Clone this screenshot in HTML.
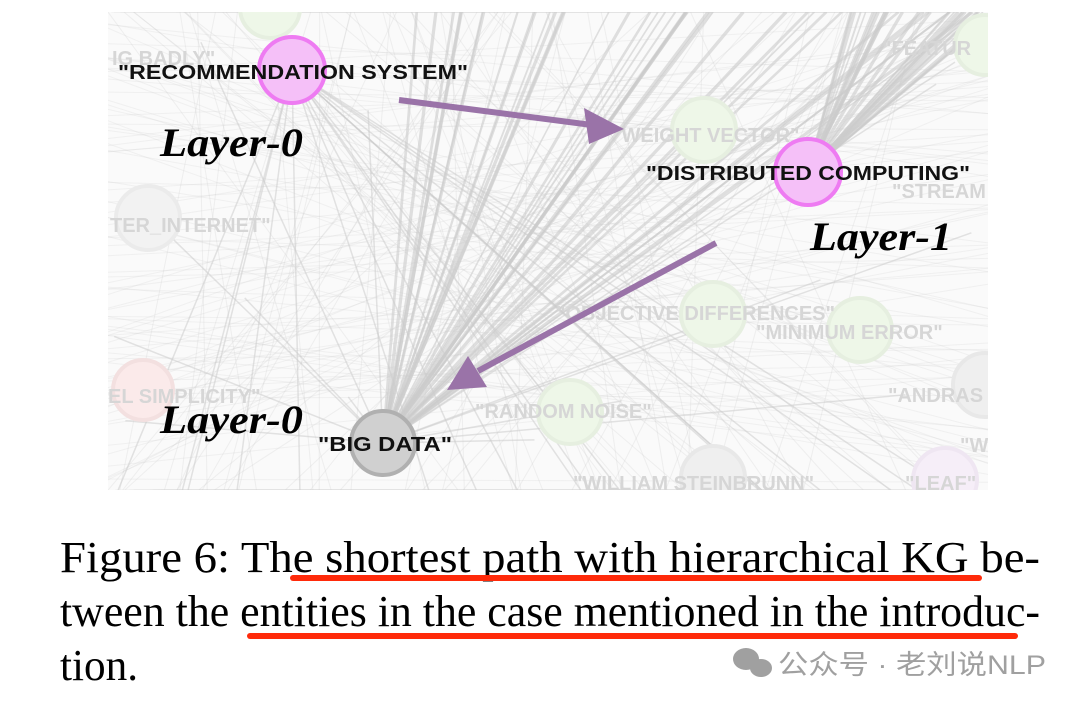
<!DOCTYPE html>
<html><head><meta charset="utf-8"><style>
html,body{margin:0;padding:0;background:#fff;width:1080px;height:709px;overflow:hidden}
</style></head><body>
<svg id="s" width="1080" height="709" viewBox="0 0 1080 709" xmlns="http://www.w3.org/2000/svg">
<defs><clipPath id="c"><rect x="108" y="12" width="880" height="478"/></clipPath></defs>
<rect x="108" y="12" width="880" height="478" fill="#fafafa"/>
<g id="lines" clip-path="url(#c)" stroke="#cccccc" fill="none"></g>
<g clip-path="url(#c)" font-family="Liberation Sans, sans-serif" font-weight="bold" font-size="20">
<circle cx="270" cy="8" r="30" fill="#eef7e8" stroke="#e6efe0" stroke-width="4"/>
<circle cx="148" cy="218" r="32" fill="#f2f2f2" stroke="#ebebeb" stroke-width="4"/>
<circle cx="704" cy="130" r="32" fill="#eef7e8" stroke="#e6efe0" stroke-width="4"/>
<circle cx="713" cy="314" r="32" fill="#eef7e8" stroke="#e6efe0" stroke-width="4"/>
<circle cx="860" cy="330" r="32" fill="#eef7e8" stroke="#e6efe0" stroke-width="4"/>
<circle cx="570" cy="412" r="32" fill="#eef7e8" stroke="#e6efe0" stroke-width="4"/>
<circle cx="143" cy="390" r="30" fill="#fbeaea" stroke="#f3e0e0" stroke-width="4"/>
<circle cx="713" cy="478" r="32" fill="#efefef" stroke="#e8e8e8" stroke-width="4"/>
<circle cx="945" cy="480" r="32" fill="#f6eef8" stroke="#efe6f2" stroke-width="4"/>
<circle cx="985" cy="385" r="32" fill="#efefef" stroke="#e8e8e8" stroke-width="4"/>
<circle cx="985" cy="45" r="30" fill="#eef7e8" stroke="#e6efe0" stroke-width="4"/>
<g fill="#d6d6d6">
<text x="112" y="65">IG BADLY"</text>
<text x="882" y="55">"FEATUR</text>
<text x="110" y="232">TER_INTERNET"</text>
<text x="612" y="142">"WEIGHT VECTOR"</text>
<text x="892" y="198">"STREAM</text>
<text x="556" y="320">"OBJECTIVE DIFFERENCES"</text>
<text x="756" y="339">"MINIMUM ERROR"</text>
<text x="108" y="403">EL SIMPLICITY"</text>
<text x="475" y="418">"RANDOM NOISE"</text>
<text x="888" y="402">"ANDRAS</text>
<text x="960" y="452">"W</text>
<text x="573" y="490">"WILLIAM STEINBRUNN"</text>
<text x="905" y="490">"LEAF"</text>
</g>
<circle cx="292" cy="70" r="33" fill="#f5c0f8" stroke="#ee7bf2" stroke-width="4"/>
<circle cx="808" cy="172" r="33" fill="#f5c0f8" stroke="#ee7bf2" stroke-width="4"/>
<circle cx="383" cy="443" r="32" fill="#d0d0d0" stroke="#b0b0b0" stroke-width="4"/>
<g fill="#111">
<text x="118" y="79" textLength="350" lengthAdjust="spacingAndGlyphs">"RECOMMENDATION SYSTEM"</text>
<text x="646" y="180" textLength="324" lengthAdjust="spacingAndGlyphs">"DISTRIBUTED COMPUTING"</text>
<text x="318" y="451" textLength="134" lengthAdjust="spacingAndGlyphs">"BIG DATA"</text>
</g>
<g fill="#9a73a8" stroke="#9a73a8">
<line x1="399" y1="100" x2="592" y2="125" stroke-width="6"/>
<polygon points="624,129 584,108 589,144" stroke="none"/>
<line x1="716" y1="243" x2="478" y2="371" stroke-width="6"/>
<polygon points="447,390 468,356 487,387" stroke="none"/>
</g>
<g font-family="Liberation Serif, serif" font-style="italic" font-weight="bold" font-size="40" fill="#000">
<text x="160" y="156" textLength="143" lengthAdjust="spacingAndGlyphs">Layer-0</text>
<text x="810" y="250" textLength="142" lengthAdjust="spacingAndGlyphs">Layer-1</text>
<text x="160" y="433" textLength="143" lengthAdjust="spacingAndGlyphs">Layer-0</text>
</g>
</g>
<g font-family="Liberation Serif, serif" font-size="44" fill="#000">
<text x="60" y="572" textLength="980" lengthAdjust="spacingAndGlyphs">Figure 6:  The shortest path with hierarchical KG be-</text>
<text x="60" y="626" textLength="980" lengthAdjust="spacingAndGlyphs">tween the entities in the case mentioned in the introduc-</text>
<text x="60" y="680" textLength="78" lengthAdjust="spacingAndGlyphs">tion.</text>
</g>
<rect x="290" y="575" width="692" height="6" rx="3" fill="#ff2a0a"/>
<rect x="247" y="633" width="771" height="6" rx="3" fill="#ff2a0a"/>
<g fill="#a0a0a0">
<ellipse cx="746" cy="659" rx="13" ry="11"/><ellipse cx="761" cy="668" rx="11" ry="9"/>
<text x="778" y="674" font-family="Liberation Sans, Noto Sans CJK SC, sans-serif" font-size="27" textLength="268" lengthAdjust="spacingAndGlyphs">公众号 · 老刘说NLP</text>
</g>
</svg>
<script>
(function(){
var g=document.getElementById('lines'),s=7;
function r(){s=(s*9301+49297)%233280;return s/233280;}
function L(x1,y1,x2,y2,w,o){var l=document.createElementNS('http://www.w3.org/2000/svg','line');
l.setAttribute('x1',x1);l.setAttribute('y1',y1);l.setAttribute('x2',x2);l.setAttribute('y2',y2);
l.setAttribute('stroke-width',w);l.setAttribute('stroke-opacity',o);g.appendChild(l);}
for(var i=0;i<140;i++){L(108+r()*880,12+r()*478>250?12:490,108+r()*880,r()<.5?12:490,1,.25);}
for(var i=0;i<90;i++){L(108,12+r()*478,988,12+r()*478,1,.22);}
for(var i=0;i<40;i++){L(383,443,400+r()*600,12,1.5+r()*2,.6);}
for(var i=0;i<30;i++){L(808,172,850+r()*150,12,1.5+r()*2,.6);}
for(var i=0;i<18;i++){L(292,70,108+r()*880,490,1.5,.55);}
for(var i=0;i<15;i++){L(383,443,108+r()*880,12+r()*478,1.5,.55);}
})();
</script>
</body></html>
